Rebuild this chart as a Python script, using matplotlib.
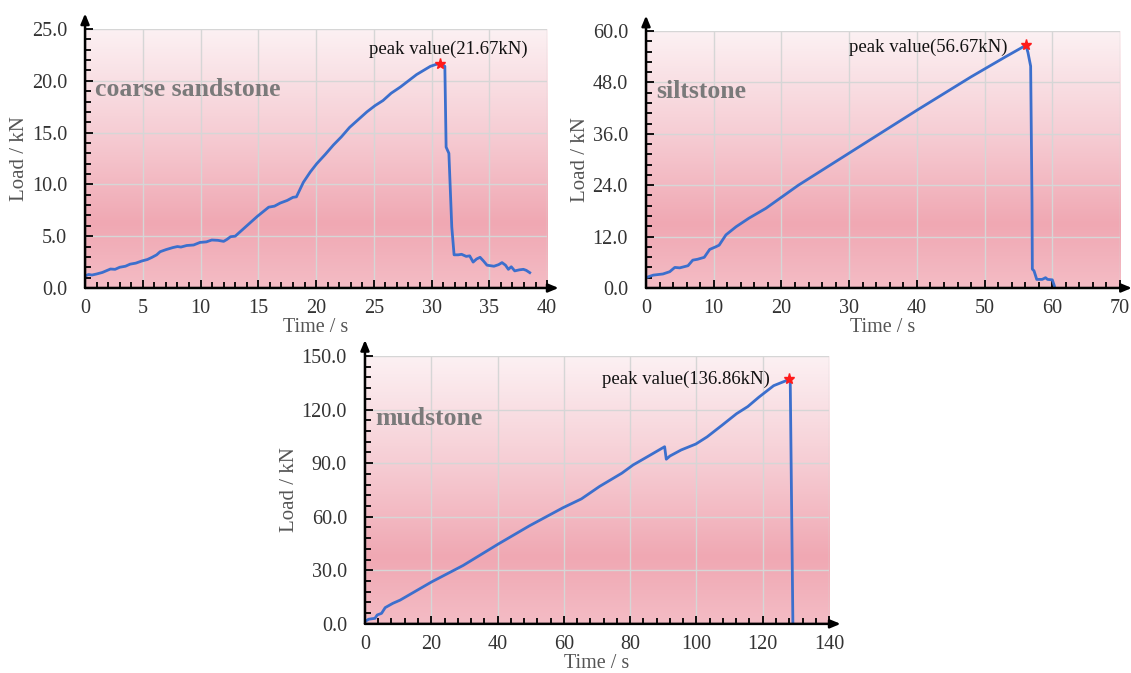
import matplotlib
matplotlib.use('Agg')
import matplotlib.pyplot as plt
from matplotlib.colors import LinearSegmentedColormap
from matplotlib.ticker import MultipleLocator, FormatStrFormatter
import numpy as np

plt.rcParams['font.family'] = ['Liberation Serif', 'DejaVu Serif']

# Coarse sandstone
time_cs = [0, 0.3, 0.6, 1.0, 1.5, 2.2, 2.6, 3.0, 3.5, 3.9, 4.4, 4.9, 5.4, 5.8, 6.2, 6.5,
           7.0, 7.6, 8.0, 8.3, 8.8, 9.4, 9.96, 10.5, 10.97, 11.5, 12.0, 12.3, 12.6, 13.0,
           13.4, 14.0, 14.9, 15.9, 16.4, 16.9, 17.5, 18.0, 18.3, 18.9, 19.5, 20.06, 20.8,
           21.5, 22.2, 22.9, 23.7, 24.4, 25.1, 25.8, 26.5, 27.3, 28.0, 28.7, 29.3, 29.9,
           30.3, 30.7, 31.0, 31.15, 31.26, 31.5, 31.75, 31.95, 32.3, 32.6, 33.0, 33.3, 33.6,
           33.9, 34.2, 34.5, 34.8, 35.4, 35.8, 36.1, 36.4, 36.65, 36.9, 37.2, 37.6, 37.95,
           38.2, 38.5]
load_cs = [1.16, 1.3, 1.25, 1.35, 1.5, 1.83, 1.8, 2.0, 2.1, 2.3, 2.4, 2.6, 2.75, 2.96, 3.2,
           3.5, 3.7, 3.9, 4.0, 3.95, 4.1, 4.15, 4.4, 4.45, 4.63, 4.6, 4.5, 4.7, 4.95, 5.0,
           5.4, 6.0, 6.9, 7.8, 7.9, 8.2, 8.45, 8.75, 8.8, 10.2, 11.2, 12.0, 12.9, 13.8, 14.6,
           15.5, 16.3, 17.0, 17.6, 18.1, 18.8, 19.4, 20.0, 20.6, 21.0, 21.4, 21.55, 21.67,
           21.5, 21.4, 13.6, 13.0, 5.9, 3.2, 3.2, 3.25, 3.05, 3.1, 2.5, 2.8, 2.96, 2.6, 2.2,
           2.1, 2.25, 2.45, 2.2, 1.8, 2.05, 1.65, 1.75, 1.8, 1.7, 1.48]

# Siltstone
time_si = [0, 0.5, 1.07, 2.5, 3.5, 4.25, 4.98, 6.2, 6.9, 7.6, 8.6, 9.4, 10.35, 10.8, 11.8,
           13.3, 15.2, 17.7, 20.1, 22.5, 30, 40, 48, 53, 56.1, 56.4, 56.8, 57.0, 57.05, 57.3,
           57.7, 58.5, 59.0, 59.3, 60.0, 60.3, 60.35]
load_si = [2.4, 2.7, 3.0, 3.27, 3.8, 4.8, 4.7, 5.2, 6.5, 6.7, 7.16, 9.0, 9.65, 10.0, 12.4,
           14.3, 16.3, 18.6, 21.3, 24.0, 31.5, 41.5, 49.3, 53.9, 56.67, 55.0, 51.8, 20.0, 4.4,
           4.0, 2.0, 2.0, 2.4, 2.0, 1.9, 0.5, 0.0]

# Mudstone
time_mu = [0, 1.1, 3.0, 3.7, 5.0, 6.1, 8.4, 10.6, 20.1, 29.6, 40.2, 49.6, 59.7, 65.3, 70.8,
           77.5, 80.9, 85.3, 90.4, 90.9, 92.0, 95.4, 99.8, 103.2, 107.7, 112.1, 115.5, 118.8,
           123.3, 127.96, 128.3, 129.1]
load_mu = [1.3, 2.6, 3.1, 5.0, 5.9, 9.1, 11.5, 13.3, 23.5, 32.7, 44.7, 54.9, 65.0, 70.0, 77.0,
           84.4, 89.0, 93.7, 99.2, 92.2, 94.0, 97.4, 100.7, 104.7, 111.2, 117.7, 121.7, 126.9,
           133.4, 136.86, 135.8, 0.0]

# Peak points
peak_time = [30.7, 56.1, 127.96]
peak_load = [21.67, 56.67, 136.86]
names = ['coarse sandstone', 'siltstone', 'mudstone']

# pink background, light on top
bg_cmap = LinearSegmentedColormap.from_list(
    'pinkbg', [(0.0, '#f4bcc5'), (0.25, '#f0a8b3'), (0.6, '#f6cdd4'), (1.0, '#fcf1f3')])


def makePanel(ax, t, load, xmax, ymax, xmaj, xmin, ymaj, ymin, name, pk_t, pk_l, txt_xy):
    grad = np.linspace(0, 1, 256).reshape(-1, 1)
    ax.imshow(grad, cmap=bg_cmap, origin='lower', aspect='auto', extent=[0, 1, 0, 1],
              transform=ax.transAxes, zorder=0)
    ax.set_axisbelow(True)
    ax.grid(True, color='#d6d6d6', lw=1.0)

    ax.plot(t, load, color='#3c6fcd', lw=2.0, zorder=3)
    ax.plot(pk_t, pk_l, marker='*', color='#ff1a1a', ms=8, zorder=4, clip_on=False)
    ax.text(txt_xy[0], txt_xy[1], 'peak value(%.2fkN)' % pk_l, ha='right', va='center',
            fontsize=13.5, color='#111111')
    ax.text(0.022, 0.765, name, transform=ax.transAxes, fontsize=18.5, fontweight='bold',
            color='#7a7a7a', va='center')

    ax.set_xlim(0, xmax)
    ax.set_ylim(0, ymax)
    ax.xaxis.set_major_locator(MultipleLocator(xmaj))
    ax.xaxis.set_minor_locator(MultipleLocator(xmin))
    ax.yaxis.set_major_locator(MultipleLocator(ymaj))
    ax.yaxis.set_minor_locator(MultipleLocator(ymin))
    ax.yaxis.set_major_formatter(FormatStrFormatter('%.1f'))
    ax.tick_params(which='both', direction='in', labelsize=14.5, labelcolor='#333333',
                   color='k', width=1.3)
    ax.tick_params(axis='x', which='major', direction='in', length=6, pad=8)
    ax.tick_params(axis='y', which='major', direction='in', length=6, pad=13)
    ax.tick_params(which='minor', direction='in', length=4)

    for s in ['top', 'right', 'left', 'bottom']:
        ax.spines[s].set_visible(False)
    # axes with arrow heads
    ax.annotate('', xy=(0, 1.06), xytext=(0, 0), xycoords='axes fraction',
                arrowprops=dict(arrowstyle='-|>,head_length=0.6,head_width=0.25',
                                color='k', lw=1.8, shrinkA=0, shrinkB=0))
    ax.annotate('', xy=(1.025, 0), xytext=(0, 0), xycoords='axes fraction',
                arrowprops=dict(arrowstyle='-|>,head_length=0.6,head_width=0.25',
                                color='k', lw=1.8, shrinkA=0, shrinkB=0))

    ax.set_xlabel('Time / s', fontsize=14.5, color='#555555', labelpad=0)
    ax.set_ylabel('Load / kN', fontsize=15, color='#555555', labelpad=2)


fig = plt.figure(figsize=(11.31, 6.73), dpi=100)
ax1 = fig.add_axes([0.0752, 0.5721, 0.4085, 0.3848])
ax2 = fig.add_axes([0.5712, 0.5721, 0.4191, 0.3818])
ax3 = fig.add_axes([0.3227, 0.0730, 0.4103, 0.3980])

makePanel(ax1, time_cs, load_cs, 40, 25, 5, 1, 5, 1, names[0],
          peak_time[0], peak_load[0], (38.3, 23.0))
makePanel(ax2, time_si, load_si, 70, 60, 10, 2, 12, 2.4, names[1],
          peak_time[1], peak_load[1], (53.4, 56.3))
makePanel(ax3, time_mu, load_mu, 140, 150, 20, 4, 30, 6, names[2],
          peak_time[2], peak_load[2], (122.3, 136.7))

fig.savefig('out.png', dpi=100)
